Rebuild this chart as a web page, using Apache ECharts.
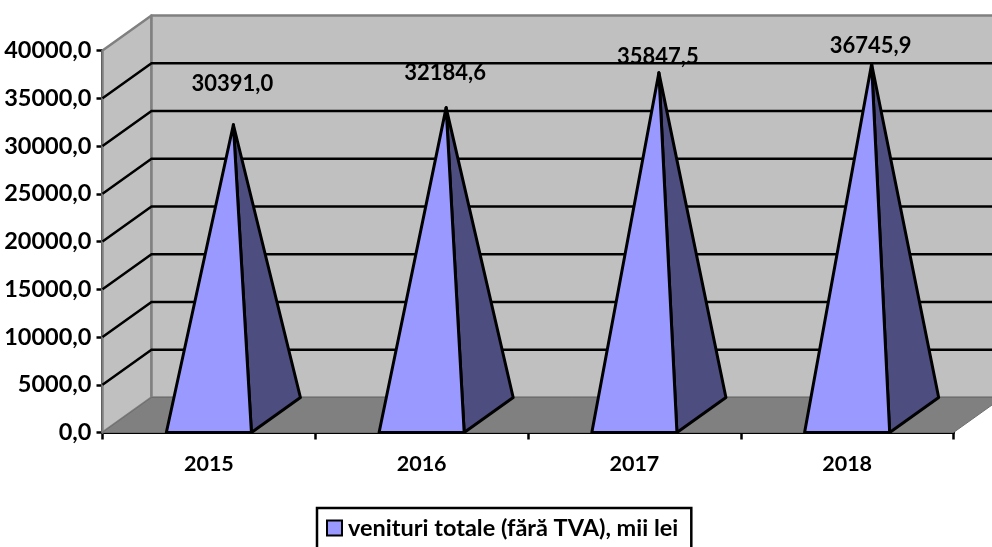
<!DOCTYPE html>
<html>
<head>
    <meta charset="utf-8">
    <title>ECharts</title>
    <script src="https://cdn.jsdelivr.net/npm/echarts@6/dist/echarts.min.js"></script>
    <style>
        html, body { margin: 0; padding: 0; background: #fff; overflow: hidden; }
    </style>
</head>
<body>
    <div id="chart" style="width: 992px;height:547px;"></div>
    <script type="text/javascript">
        var years = ['2015', '2016', '2017', '2018'];
        var venituri = [30391.0, 32184.6, 35847.5, 36745.9];
        var gridValues = [5000, 10000, 15000, 20000, 25000, 30000, 35000];
        var seriesName = 'venituri totale (fără TVA), mii lei';

        // how the fake 3d is set up, in pixels
        var depthX = 49;
        var depthY = -35;
        var baseRatio = 0.2;
        var labelLift = [41, 35, 16, 18];
        var fontFamily = 'Lato';

        function fmt(v) {
            return v.toFixed(1).replace('.', ',');
        }

        function back(p) {
            return [p[0] + depthX, p[1] + depthY];
        }

        function poly(points, fill, stroke, width) {
            return {
                type: 'polygon',
                shape: { points: points },
                style: { fill: fill, stroke: stroke, lineWidth: width, lineJoin: 'round' }
            };
        }

        // side wall, back wall and floor
        function renderRoom(params, api) {
            var s = params.coordSys;
            var bl = [s.x, s.y + s.height];
            var tl = [s.x, s.y];
            var br = [s.x + s.width, s.y + s.height];
            var tr = [s.x + s.width, s.y];
            return {
                type: 'group',
                children: [
                    poly([bl, tl, back(tl), back(bl)], '#c0c0c0', '#808080', 2.5),
                    poly([back(bl), back(tl), back(tr), back(br)], '#c0c0c0', '#808080', 2.5),
                    poly([bl, back(bl), back(br), br], '#808080', '#6e6e6e', 1)
                ]
            };
        }

        function renderGridLine(params, api) {
            var s = params.coordSys;
            var p = api.coord([0, api.value(0)]);
            var left = [s.x, p[1]];
            var right = [s.x + s.width, p[1]];
            return {
                type: 'polyline',
                shape: { points: [left, back(left), back(right)] },
                style: { fill: null, stroke: '#000', lineWidth: 2.5 }
            };
        }

        function renderPyramid(params, api) {
            var i = api.value(0);
            var val = api.value(1);
            var c = api.coord([i, 0]);
            var top = api.coord([i, val]);
            var half = api.size([1, 0])[0] * baseRatio;
            var fl = [c[0] - half, c[1]];
            var fr = [c[0] + half, c[1]];
            var br = back(fr);
            var apex = [c[0] + depthX / 2, top[1] + depthY / 2];
            return {
                type: 'group',
                children: [
                    poly([fr, br, apex], '#4d4d80', '#000', 3),
                    poly([fl, fr, apex], '#9999ff', '#000', 3),
                    {
                        type: 'text',
                        z2: 10,
                        style: {
                            x: apex[0] - 1,
                            y: apex[1] - labelLift[i],
                            text: fmt(val),
                            align: 'center',
                            verticalAlign: 'middle',
                            fill: '#000',
                            font: 'bold 22px ' + fontFamily
                        }
                    }
                ]
            };
        }

        var chart = echarts.init(document.getElementById('chart'));
        var option = {
            animation: false,
            textStyle: { fontFamily: fontFamily },
            grid: { left: 102.5, right: 38.5, top: 50.5, bottom: 114.5, containLabel: false },
            legend: {
                data: [{ name: seriesName, icon: 'rect' }],
                left: 317,
                top: 508,
                padding: [8, 13, 40, 9],
                itemWidth: 15,
                itemHeight: 15,
                itemGap: 0,
                borderColor: '#000',
                borderWidth: 2.5,
                selectedMode: false,
                textStyle: { color: '#000', fontWeight: 'bold', fontSize: 23.5, fontFamily: fontFamily, padding: [0, 0, 0, 1] }
            },
            xAxis: {
                type: 'category',
                data: years,
                axisLine: { show: true, lineStyle: { color: '#000', width: 3 } },
                axisTick: { show: true, length: 7, lineStyle: { color: '#000', width: 2.5 } },
                axisLabel: { color: '#000', fontWeight: 'bold', fontSize: 21.5, fontFamily: fontFamily, margin: 21 }
            },
            yAxis: {
                type: 'value',
                min: 0,
                max: 40000,
                interval: 5000,
                axisLine: { show: true, lineStyle: { color: '#000', width: 3 } },
                axisTick: { show: true, length: 6, lineStyle: { color: '#000', width: 2.5 } },
                axisLabel: { color: '#000', fontWeight: 'bold', fontSize: 23.5, fontFamily: fontFamily, margin: 11, padding: [3, 0, 0, 0], formatter: fmt },
                splitLine: { show: false }
            },
            series: [
                { type: 'custom', name: 'room', renderItem: renderRoom, data: [0], silent: true, z: 1 },
                {
                    type: 'custom', name: 'grid', renderItem: renderGridLine, silent: true, z: 2,
                    encode: { y: 0 },
                    data: gridValues.map(function (v) { return [v]; })
                },
                {
                    type: 'custom', name: seriesName, renderItem: renderPyramid, z: 3,
                    itemStyle: { color: '#9999ff', borderColor: '#000', borderWidth: 2.5 },
                    encode: { x: 0, y: 1 },
                    data: venituri.map(function (v, i) { return [i, v]; })
                }
            ]
        };
        chart.setOption(option);
    </script>
</body>
</html>
